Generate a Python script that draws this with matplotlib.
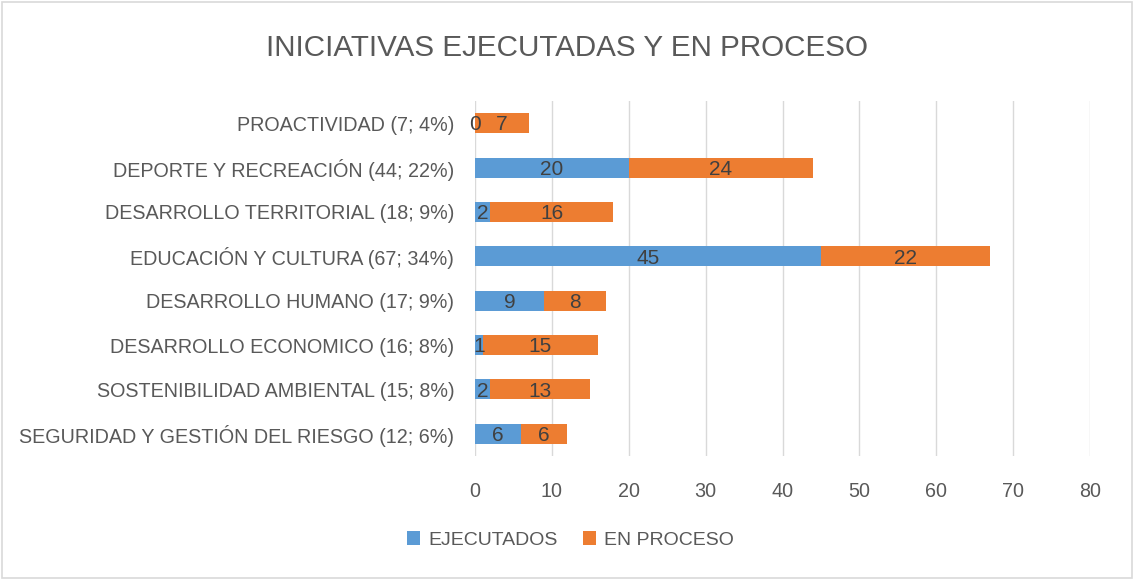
import matplotlib
matplotlib.use("Agg")
import matplotlib.pyplot as plt
from matplotlib.patches import Rectangle

categories = [
    "SEGURIDAD Y GESTIÓN DEL RIESGO (12; 6%)",
    "SOSTENIBILIDAD AMBIENTAL (15; 8%)",
    "DESARROLLO ECONOMICO (16; 8%)",
    "DESARROLLO HUMANO (17; 9%)",
    "EDUCACIÓN Y CULTURA (67; 34%)",
    "DESARROLLO TERRITORIAL (18; 9%)",
    "DEPORTE Y RECREACIÓN (44; 22%)",
    "PROACTIVIDAD (7; 4%)",
]
ejecutados = [6, 2, 1, 9, 45, 2, 20, 0]
en_proceso = [6, 13, 15, 8, 22, 16, 24, 7]
xticks = [0, 10, 20, 30, 40, 50, 60, 70, 80]

blue = "#5B9BD5"
orange = "#ED7D31"
tick_color = "#595959"
label_color = "#404040"

plt.rcParams['font.family'] = ['Liberation Sans', 'DejaVu Sans']

fig = plt.figure(figsize=(11.34, 5.8), dpi=100)
ax = fig.add_axes([475/1134, 1 - 456/580, (1090 - 475)/1134, (456 - 101)/580])

y = list(range(len(categories)))
b1 = ax.barh(y, ejecutados, height=0.45, color=blue, label="EJECUTADOS", zorder=3)
b2 = ax.barh(y, en_proceso, left=ejecutados, height=0.45, color=orange, label="EN PROCESO", zorder=3)

for i in range(len(categories)):
    e = ejecutados[i]
    p = en_proceso[i]
    xe = e / 2 if e > 0 else 0
    ax.text(xe, i - 0.04, str(e), ha="center", va="center", fontsize=15, color=label_color, zorder=4)
    ax.text(e + p / 2, i - 0.04, str(p), ha="center", va="center", fontsize=15, color=label_color, zorder=4)

ax.set_xlim(0, 80)
ax.set_ylim(-0.5, len(categories) - 0.5)
ax.set_xticks(xticks)
ax.set_xticklabels([str(t) for t in xticks])
ax.set_yticks(y)
ax.set_yticklabels(categories)
ax.tick_params(axis="both", length=0, colors=tick_color, labelsize=14.2)
ax.tick_params(axis="x", pad=19)
ax.tick_params(axis="y", pad=15)
ax.grid(axis="x", color="#D9D9D9", linewidth=1, zorder=0)
for s in ax.spines.values():
    s.set_visible(False)

fig.suptitle("INICIATIVAS EJECUTADAS Y EN PROCESO", x=0.5, y=1 - 48/580, va="center",
             fontsize=21.3, color=tick_color)

leg = fig.legend(handles=[b1, b2], loc="center", bbox_to_anchor=(0.503, 1 - 540/580), ncol=2,
                 frameon=False, fontsize=14, handlelength=0.7, handleheight=0.7,
                 columnspacing=1.3, handletextpad=0.4, labelcolor=tick_color)

fig.patches.append(Rectangle((0.002, 0.003), 0.996, 0.994, transform=fig.transFigure,
                             fill=False, edgecolor="#D9D9D9", linewidth=1.2))

fig.savefig("out.png", dpi=100, facecolor="white")
